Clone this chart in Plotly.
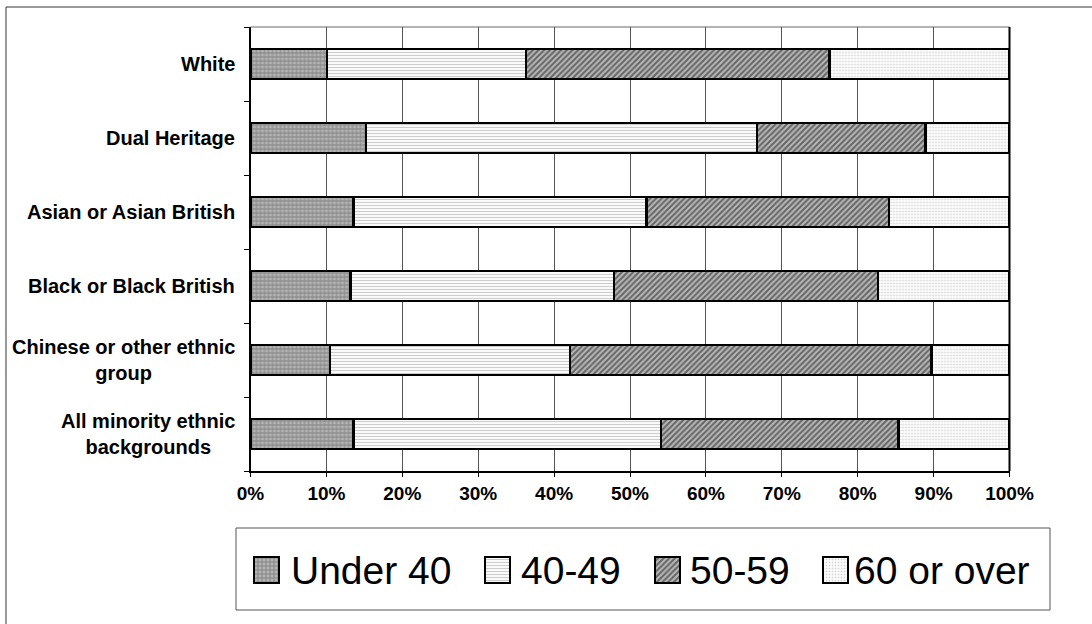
import plotly.graph_objects as go

# Ethnic groups, top to bottom
groups = [
    "White",
    "Dual Heritage",
    "Asian or Asian British",
    "Black or Black British",
    "Chinese or other ethnic<br>group",
    "All minority ethnic<br>backgrounds",
]

# Share of each age band (percent of group)
under_40 = [10.1, 15.2, 13.6, 13.2, 10.5, 13.6]
age_40_49 = [26.2, 51.5, 38.6, 34.7, 31.6, 40.5]
age_50_59 = [40.0, 22.2, 31.9, 34.8, 47.6, 31.3]
age_60_plus = [23.7, 11.1, 15.9, 17.3, 10.3, 14.6]

age_bands = ["Under 40", "40-49", "50-59", "60 or over"]
band_values = [under_40, age_40_49, age_50_59, age_60_plus]
band_patterns = [
    dict(shape="+", fgcolor="#3a3a3a", bgcolor="#b4b4b4", size=4, solidity=0.35),
    dict(shape="-", fgcolor="#9a9a9a", bgcolor="#ffffff", size=3, solidity=0.4),
    dict(shape="/", fgcolor="#111111", bgcolor="#b8b8b8", size=4, solidity=0.5),
    dict(shape=".", fgcolor="#b0b0b0", bgcolor="#ffffff", size=3, solidity=0.35),
]

x_ticks = list(range(0, 101, 10))
x_tick_labels = [f"{v}%" for v in x_ticks]

W, H = 1092, 624
# plot area in pixels
PL, PR, PT, PB = 250.5, 1009.5, 27, 471

fig = go.Figure()
for name, vals, pat in zip(age_bands, band_values, band_patterns):
    fig.add_trace(go.Bar(
        y=groups, x=vals, name=name, orientation="h",
        marker=dict(color="white", pattern=pat,
                    line=dict(color="black", width=2.5)),
        showlegend=False, hoverinfo="x+name",
    ))

# Legend swatches, drawn on a pixel-scaled overlay so they can carry the fill patterns
legend_swatch_left = [254, 485, 655, 823]
legend_text_left = [289, 519, 688, 852]
SW, SY0, SY1, LY = 25, 557, 583, 570
for name, pat, sx in zip(age_bands, band_patterns, legend_swatch_left):
    fig.add_trace(go.Bar(
        x=[sx + SW / 2], y=[SY1 - SY0], base=[SY0], width=[SW],
        xaxis="x2", yaxis="y2", name=name,
        marker=dict(color="white", pattern=pat, line=dict(color="black", width=2)),
        showlegend=False, hoverinfo="name",
    ))
for name, tx in zip(age_bands, legend_text_left):
    fig.add_annotation(
        x=tx, y=LY, xref="x2", yref="y2", xanchor="left", yanchor="middle",
        text=name, showarrow=False, font=dict(size=39),
    )

fig.update_layout(
    width=W, height=H,
    barmode="stack", bargap=0.595,
    margin=dict(l=0, r=0, t=0, b=0, autoexpand=False),
    paper_bgcolor="white", plot_bgcolor="rgba(0,0,0,0)",
    font=dict(family="Liberation Sans, Arial, sans-serif", color="black"),
    showlegend=False,
    xaxis=dict(
        domain=[PL / W, PR / W],
        range=[0, 100], tickvals=x_ticks, ticktext=x_tick_labels,
        showgrid=True, gridcolor="#555555", gridwidth=1,
        showline=True, linecolor="black", linewidth=2,
        ticks="outside", ticklen=4, tickcolor="black",
        tickfont=dict(size=19, weight="bold"), zeroline=False,
        fixedrange=True,
    ),
    yaxis=dict(
        domain=[(H - PB) / H, (H - PT) / H],
        categoryorder="array", categoryarray=groups[::-1],
        showticklabels=False, tickson="boundaries",
        ticks="outside", ticklen=5, tickcolor="black",
        showgrid=False, showline=True, linecolor="black", linewidth=2,
        fixedrange=True,
    ),
    xaxis2=dict(domain=[0, 1], range=[0, W], visible=False, anchor="y2",
                fixedrange=True),
    yaxis2=dict(domain=[0, 1], range=[H, 0], visible=False, anchor="x2",
                fixedrange=True),
)

# Category labels, centred line by line and right-aligned to the axis
for g in groups:
    fig.add_annotation(
        x=0, xref="x", y=g, yref="y", xanchor="right", xshift=-14,
        text=f"<b>{g}</b>", showarrow=False, align="center",
        font=dict(size=20),
    )

# Plot frame: grey top edge, heavy right edge
fig.add_shape(type="line", xref="x domain", yref="y domain", x0=0, x1=1, y0=1, y1=1,
              line=dict(color="#666666", width=1))
fig.add_shape(type="line", xref="x domain", yref="y domain", x0=1, x1=1, y0=0, y1=1,
              line=dict(color="black", width=2))
# Legend frame
fig.add_shape(type="rect", xref="x2", yref="y2", x0=236, x1=1050, y0=528, y1=610,
              line=dict(color="#555555", width=1), layer="below")
# Chart frame
fig.add_shape(type="rect", xref="x2", yref="y2", x0=6, x1=1100, y0=7, y1=640,
              line=dict(color="#333333", width=1), layer="below")

fig.write_html("out.html")
